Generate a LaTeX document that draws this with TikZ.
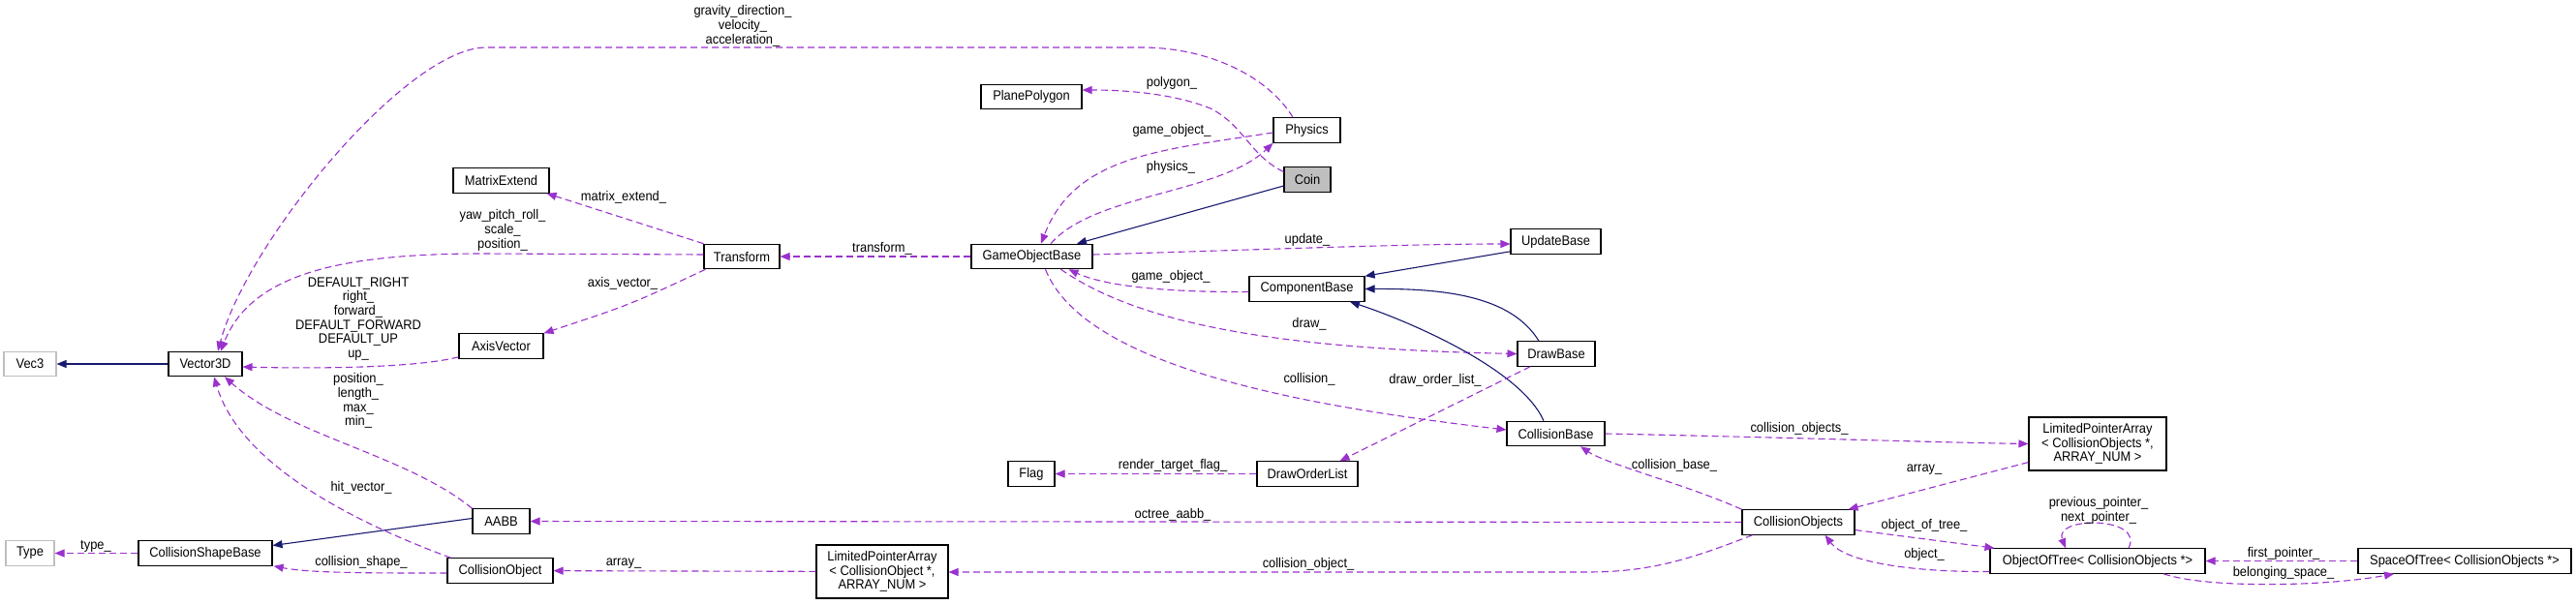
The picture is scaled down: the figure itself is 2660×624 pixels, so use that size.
\documentclass[tikz,border=0pt]{standalone}
\usepackage{fontspec}
\setmainfont{Liberation Sans}[FakeStretch=0.92]
\usetikzlibrary{arrows.meta,calc}
\definecolor{usecol}{HTML}{9A32CD}
\definecolor{inhcol}{HTML}{191970}
\definecolor{grayb}{HTML}{BFBFBF}
\newcommand\dgfont{\fontsize{14}{14.7}\selectfont}
\begin{document}
\begin{tikzpicture}[x=1pt,y=-1pt,
  box/.style={draw=black, line width=1.1pt, fill=white, minimum height=25.5pt, inner sep=0pt, align=center, font=\dgfont},
  lbl/.style={inner sep=0pt, align=center, font=\dgfont},
  uses/.style={draw=usecol, line width=1.1pt, dash pattern=on 7pt off 4pt, -{Triangle[length=10pt,width=8pt]}},
  inherit/.style={draw=inhcol, line width=1.1pt, -{Triangle[length=10pt,width=8pt]}}]
\fill[white] (0,0) rectangle (2660,624);
\useasboundingbox (0,0) rectangle (2660,624);
% nodes
\node[box, minimum width=54pt, draw=grayb] (vec3) at (31,376) {Vec3};
\node[box, minimum width=76pt] (vector3d) at (212,376) {Vector3D};
\node[box, minimum width=99pt] (matrixextend) at (517.5,186.5) {MatrixExtend};
\node[box, minimum width=87pt] (axisvector) at (517.5,357.5) {AxisVector};
\node[box, minimum width=50pt, draw=grayb] (type) at (31,571.5) {Type};
\node[box, minimum width=138pt] (csb) at (212,571.5) {CollisionShapeBase};
\node[box, minimum width=59pt] (aabb) at (517.5,538.5) {AABB};
\node[box, minimum width=109pt] (cobj) at (516.5,589.5) {CollisionObject};
\node[box, minimum width=136pt, minimum height=55pt] (lpa1) at (911,590.5) {LimitedPointerArray\\< CollisionObject *,\\ ARRAY\_NUM >};
\node[box, minimum width=104pt] (planepolygon) at (1065,100) {PlanePolygon};
\node[box, minimum width=69pt] (physics) at (1349.5,134.5) {Physics};
\node[box, minimum width=48pt, fill=grayb] (coin) at (1350,185.5) {Coin};
\node[box, minimum width=78pt] (transform) at (766,265) {Transform};
\node[box, minimum width=125pt] (gob) at (1065.5,265) {GameObjectBase};
\node[box, minimum width=93pt] (updatebase) at (1606.5,249.5) {UpdateBase};
\node[box, minimum width=119pt] (compbase) at (1349.5,298.5) {ComponentBase};
\node[box, minimum width=80pt] (drawbase) at (1607,365.5) {DrawBase};
\node[box, minimum width=48pt] (flag) at (1065,489.5) {Flag};
\node[box, minimum width=104pt] (dol) at (1350,489.5) {DrawOrderList};
\node[box, minimum width=101pt] (collbase) at (1606.5,448) {CollisionBase};
\node[box, minimum width=116pt] (cobjs) at (1857,539.5) {CollisionObjects};
\node[box, minimum width=142pt, minimum height=55pt] (lpa2) at (2166,458.5) {LimitedPointerArray\\< CollisionObjects *,\\ ARRAY\_NUM >};
\node[box, minimum width=222pt] (oot) at (2166,579.5) {ObjectOfTree< CollisionObjects *>};
\node[box, minimum width=220pt] (sot) at (2545,579.5) {SpaceOfTree< CollisionObjects *>};
% edges
\draw[uses] ($(physics.north)+(-14.5,0)$) .. controls (1310,80) and (1250,49) .. (1178,49) -- (502,49) .. controls (420,49) and (255,250) .. ($(vector3d.north)+(13,0)$);
\draw[uses] ($(coin.west)+(0,-8)$) .. controls (1290,160) and (1285,130) .. (1250,112) .. controls (1210,96) and (1160,93) .. ($(planepolygon.east)+(0,-7)$);
\draw[uses] ($(physics.west)+(0,2.5)$) .. controls (1200,155) and (1110,160) .. ($(gob.north)+(9.5,0)$);
\draw[uses] ($(gob.north)+(19.5,0)$) .. controls (1130,200) and (1260,200) .. (physics.south west);
\draw[inherit] ($(coin.west)+(0,6.5)$) -- ($(gob.north)+(46.5,0)$);
\draw[uses] (transform.north west) -- ($(matrixextend.south east)+(-3,0)$);
\draw[uses] ($(transform.west)+(0,-2)$) -- (500,262) .. controls (360,262) and (260,280) .. ($(vector3d.north)+(16,0)$);
\draw[uses] ($(transform.south west)+(2,0)$) .. controls (650,315) .. (axisvector.north east);
\draw[uses] ($(axisvector.south west)+(0,-2)$) .. controls (430,380) and (330,381) .. ($(vector3d.east)+(0,3)$);
\draw[inherit] (vector3d) -- (vec3);
\draw[uses] (aabb.north west) .. controls (420,470) and (300,450) .. ($(vector3d.south)+(20,0)$);
\draw[uses] ($(cobj.north west)+(4,0)$) .. controls (340,530) and (245,470) .. ($(vector3d.south)+(9,0)$);
\draw[inherit] ($(aabb.west)+(0,-3)$) -- ($(csb.east)+(0,-8)$);
\draw[uses] (csb) -- (type);
\draw[uses] ($(cobj.west)+(0,2.5)$) .. controls (380,592) and (320,592) .. ($(csb.south east)+(1,0)$);
\draw[uses] (lpa1) -- (cobj);
\draw[uses] (cobjs) -- (aabb);
\draw[uses] ($(cobjs.south west)+(11,0)$) .. controls (1740,580) and (1700,591) .. (1638,591) -- ($(lpa1.east)+(0,0.5)$);
\draw[uses] (gob) -- (transform);
\draw[uses] ($(gob.east)+(0,-2)$) .. controls (1300,258) and (1450,252) .. ($(updatebase.west)+(0,2.5)$);
\draw[inherit] ($(updatebase.south west)+(0,-3)$) -- (compbase.north east);
\draw[uses] ($(compbase.west)+(0,3)$) .. controls (1200,302) and (1140,295) .. ($(gob.south)+(38,0)$);
\draw[inherit] ($(drawbase.north)+(-18,0)$) .. controls (1560,305) and (1490,298) .. (compbase.east);
\draw[uses] ($(gob.south)+(30,0)$) .. controls (1170,330) and (1300,360) .. (drawbase.west);
\draw[uses] ($(gob.south)+(14,0)$) .. controls (1120,380) and (1350,420) .. ($(collbase.west)+(0,-4)$);
\draw[inherit] ($(collbase.north)+(-12.5,0)$) .. controls (1570,380) and (1450,330) .. ($(compbase.south)+(44.5,0)$);
\draw[uses] ($(drawbase.south)+(-27,0)$) -- ($(dol.north east)+(-19,0)$);
\draw[uses] (dol) -- (flag);
\draw[uses] (collbase.east) .. controls (1850,452) and (2000,457) .. (lpa2.west);
\draw[uses] ($(lpa2.south west)+(0,-9)$) -- ($(cobjs.north east)+(-7,0)$);
\draw[uses] (cobjs.north west) .. controls (1740,500) and (1660,480) .. ($(collbase.south)+(25.5,0)$);
\draw[uses] ($(cobjs.east)+(0,8)$) -- ($(oot.north west)+(5,0)$);
\draw[uses] ($(oot.west)+(0,11)$) .. controls (1970,591) and (1905,580) .. ($(cobjs.south east)+(-31,0)$);
\draw[uses] ($(oot.north)+(32,0)$) .. controls (2215,533) and (2120,533) .. ($(oot.north)+(-33,0)$);
\draw[uses] (sot) -- (oot);
\draw[uses] ($(oot.south)+(68,0)$) .. controls (2280,608) and (2400,606) .. ($(sot.south)+(-73,0)$);
% labels
\node[lbl] (l1) at (767,27) {gravity\_direction\_\\velocity\_\\acceleration\_};
\node[lbl] (l2) at (1210,86) {polygon\_};
\node[lbl] (l3) at (1210,135) {game\_object\_};
\node[lbl] (l4) at (1209,173) {physics\_};
\node[lbl] (l5) at (644,204) {matrix\_extend\_};
\node[lbl] (l6) at (519,238) {yaw\_pitch\_roll\_\\scale\_\\position\_};
\node[lbl] (l7) at (643,293) {axis\_vector\_};
\node[lbl] (l8) at (370,329.5) {DEFAULT\_RIGHT\\right\_\\forward\_\\DEFAULT\_FORWARD\\DEFAULT\_UP\\up\_};
\node[lbl] (l9) at (370,414) {position\_\\length\_\\max\_\\min\_};
\node[lbl] (l10) at (373,504) {hit\_vector\_};
\node[lbl] (l11) at (99,564) {type\_};
\node[lbl] (l12) at (373,581) {collision\_shape\_};
\node[lbl] (l13) at (644,582) {array\_};
\node[lbl] (l14) at (911,257) {transform\_};
\node[lbl] (l15) at (1350,248) {update\_};
\node[lbl] (l16) at (1209,286) {game\_object\_};
\node[lbl] (l17) at (1352,335) {draw\_};
\node[lbl] (l18) at (1352,392) {collision\_};
\node[lbl] (l19) at (1482,393) {draw\_order\_list\_};
\node[lbl] (l20) at (1211,481) {render\_target\_flag\_};
\node[lbl] (l21) at (1858,443) {collision\_objects\_};
\node[lbl] (l22) at (1729,481) {collision\_base\_};
\node[lbl] (l23) at (1211,532) {octree\_aabb\_};
\node[lbl] (l24) at (1351,583) {collision\_object\_};
\node[lbl] (l25) at (1987,485) {array\_};
\node[lbl] (l26) at (2167,527.5) {previous\_pointer\_\\next\_pointer\_};
\node[lbl] (l27) at (1987,543) {object\_of\_tree\_};
\node[lbl] (l28) at (1987,573) {object\_};
\node[lbl] (l29) at (2358,572) {first\_pointer\_};
\node[lbl] (l30) at (2358,592) {belonging\_space\_};
\end{tikzpicture}
\end{document}
